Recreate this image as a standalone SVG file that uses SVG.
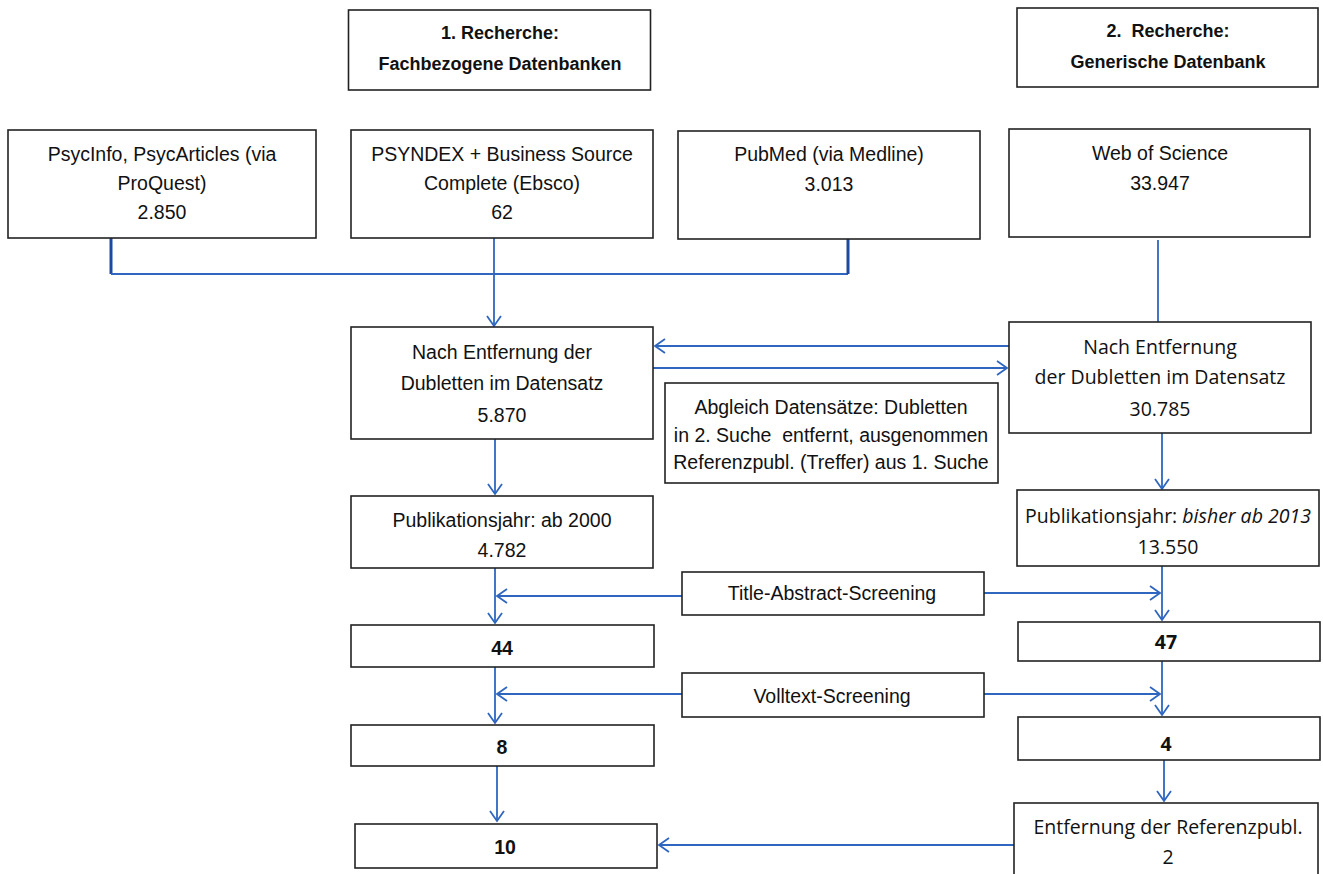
<svg xmlns="http://www.w3.org/2000/svg" width="1323" height="874" viewBox="0 0 1323 874">
<style>
.box{fill:#fff;stroke:#222;stroke-width:1.6}
.t{font-family:"Liberation Sans",Arial,sans-serif;font-size:19.5px;fill:#111;text-anchor:middle}
.o{font-family:"Open Sans","Noto Sans",sans-serif;font-size:19.5px;fill:#111;text-anchor:middle}
.h{font-family:"Liberation Sans",Arial,sans-serif;font-size:18px;font-weight:bold;fill:#111;text-anchor:middle}
.b{font-weight:bold}
.c{fill:none;stroke:#2f66c0;stroke-width:1.8}
.ck{fill:none;stroke:#1d4aa0;stroke-width:3}
</style>
<defs>
<marker id="ah" viewBox="-12 -8 14 16" refX="0" refY="0" markerWidth="14" markerHeight="16" orient="auto" markerUnits="userSpaceOnUse">
<path d="M-10,-7 L0,0 L-10,7" fill="none" stroke="#2f66c0" stroke-width="1.8"/>
</marker>
</defs>
<rect width="1323" height="874" fill="#fff"/>
<g id="connectors">
<path class="ck" d="M111,238 V274"/>
<path class="c" d="M111,274 H848" stroke-width="2.4"/>
<path class="ck" d="M848,239 V274"/>
<path class="c" d="M494,238 V326" marker-end="url(#ah)"/>
<path class="c" d="M1158,240 V322"/>
<path class="c" d="M1009,346 H655" marker-end="url(#ah)"/>
<path class="c" d="M653,368 H1007" marker-end="url(#ah)"/>
<path class="c" d="M495,439 V494" marker-end="url(#ah)"/>
<path class="c" d="M1162,433 V489" marker-end="url(#ah)"/>
<path class="c" d="M495,568 V623" marker-end="url(#ah)"/>
<path class="c" d="M682,596 H497" marker-end="url(#ah)"/>
<path class="c" d="M1162,566 V620" marker-end="url(#ah)"/>
<path class="c" d="M984,593 H1160" marker-end="url(#ah)"/>
<path class="c" d="M495,667 V723" marker-end="url(#ah)"/>
<path class="c" d="M682,694 H497" marker-end="url(#ah)"/>
<path class="c" d="M1162,661 V715" marker-end="url(#ah)"/>
<path class="c" d="M984,694 H1160" marker-end="url(#ah)"/>
<path class="c" d="M497,766 V821" marker-end="url(#ah)"/>
<path class="c" d="M1164,760 V801" marker-end="url(#ah)"/>
<path class="c" d="M1014,845 H659" marker-end="url(#ah)"/>
</g>
<g id="header1"><rect class="box" x="348.5" y="10" width="302" height="80"/>
<text class="h" x="500" y="39">1. Recherche:</text>
<text class="h" x="500" y="69.5">Fachbezogene Datenbanken</text></g>
<g id="header2"><rect class="box" x="1017" y="8" width="301" height="79"/>
<text class="h" x="1168" y="37" xml:space="preserve">2.  Recherche:</text>
<text class="h" x="1168" y="68">Generische Datenbank</text></g>
<g id="psycinfo"><rect class="box" x="8" y="130" width="308" height="108"/>
<text class="t" x="162" y="161">PsycInfo, PsycArticles (via</text>
<text class="t" x="162" y="190">ProQuest)</text>
<text class="t" x="162" y="219">2.850</text></g>
<g id="psyndex"><rect class="box" x="351" y="130" width="302" height="108"/>
<text class="t" x="502" y="161">PSYNDEX + Business Source</text>
<text class="t" x="502" y="190">Complete (Ebsco)</text>
<text class="t" x="502" y="219">62</text></g>
<g id="pubmed"><rect class="box" x="678" y="131" width="302" height="108"/>
<text class="t" x="829" y="161">PubMed (via Medline)</text>
<text class="t" x="829" y="191">3.013</text></g>
<g id="wos"><rect class="box" x="1009" y="129" width="301" height="108"/>
<text class="t" x="1160" y="160">Web of Science</text>
<text class="t" x="1160" y="190">33.947</text></g>
<g id="dub1"><rect class="box" x="351" y="327" width="302" height="112"/>
<text class="t" x="502" y="359">Nach Entfernung der</text>
<text class="t" x="502" y="390">Dubletten im Datensatz</text>
<text class="t" x="502" y="422">5.870</text></g>
<g id="dub2"><rect class="box" x="1009" y="322" width="302" height="111"/>
<text class="o" x="1160" y="354">Nach Entfernung</text>
<text class="o" x="1160" y="384">der Dubletten im Datensatz</text>
<text class="o" x="1160" y="416">30.785</text></g>
<g id="abgleich"><rect class="box" x="665" y="383" width="333" height="100" stroke-width="1.2"/>
<text class="t" x="831" y="414">Abgleich Datensätze: Dubletten</text>
<text class="t" x="831" y="442" xml:space="preserve">in 2. Suche  entfernt, ausgenommen</text>
<text class="t" x="831" y="469">Referenzpubl. (Treffer) aus 1. Suche</text></g>
<g id="pub1"><rect class="box" x="351" y="496" width="302" height="72"/>
<text class="t" x="502" y="527">Publikationsjahr: ab 2000</text>
<text class="t" x="502" y="557">4.782</text></g>
<g id="pub2"><rect class="box" x="1017" y="490" width="302" height="76"/>
<text class="o" x="1168" y="523">Publikationsjahr: <tspan font-style="italic">bisher ab 2013</tspan></text>
<text class="o" x="1168" y="554">13.550</text></g>
<g id="title"><rect class="box" x="682" y="572" width="302" height="43"/>
<text class="t" x="832" y="600">Title-Abstract-Screening</text></g>
<g id="n44"><rect class="box" x="351" y="625" width="303" height="42" stroke-width="1.3"/>
<text class="t b" x="502" y="655">44</text></g>
<g id="n47"><rect class="box" x="1018" y="622" width="302" height="39"/>
<text class="o b" x="1166" y="649">47</text></g>
<g id="volltext"><rect class="box" x="682" y="673" width="302" height="44"/>
<text class="t" x="832" y="703">Volltext-Screening</text></g>
<g id="n8"><rect class="box" x="351" y="725" width="303" height="41" stroke-width="1.3"/>
<text class="t b" x="502" y="754">8</text></g>
<g id="n4"><rect class="box" x="1018" y="717" width="302" height="43" stroke-width="1.3"/>
<text class="o b" x="1166" y="751">4</text></g>
<g id="n10"><rect class="box" x="355" y="824" width="302" height="44" stroke-width="3.2" stroke="#111"/>
<text class="t b" x="505" y="854">10</text></g>
<g id="ref"><rect class="box" x="1014" y="803" width="304" height="80"/>
<text class="o" x="1168" y="834">Entfernung der Referenzpubl.</text>
<text class="o" x="1168" y="864">2</text></g>
</svg>
